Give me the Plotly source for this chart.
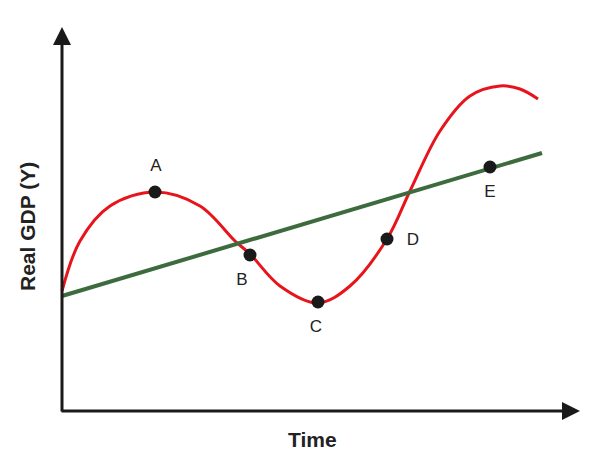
import plotly.graph_objects as go

# values (x = time, y = real GDP, in picture units)
curve_x = [62, 80, 110, 155, 200, 235, 250, 280, 318, 350, 387, 410, 440, 470, 500, 520, 538]
curve_y = [166, 216, 251, 265, 251, 216, 203, 171, 154, 171, 218, 266, 326, 361, 371, 368, 358]
trend_x = [62, 542]
trend_y = [161, 304]
pt_names = ['A', 'B', 'C', 'D', 'E']
pt_x = [155, 250, 318, 387, 490]
pt_y = [265, 202, 155, 218, 290]
lab_x = [156, 242, 316, 413, 490]
lab_y = [290, 176, 129, 216, 264]

fig = go.Figure()
fig.add_trace(go.Scatter(x=curve_x, y=curve_y, mode='lines', line=dict(color='#e8141b', width=3, shape='spline'),
                         hoverinfo='skip'))
fig.add_trace(go.Scatter(x=trend_x, y=trend_y, mode='lines', line=dict(color='#3d6b3d', width=4),
                         hoverinfo='skip'))
fig.add_trace(go.Scatter(x=pt_x, y=pt_y, mode='markers', marker=dict(color='#1a1a1a', size=13)))
fig.add_trace(go.Scatter(x=lab_x, y=lab_y, mode='text', text=pt_names,
                         textfont=dict(family='Arial', size=17, color='#222')))

# axes with arrowheads
fig.add_annotation(x=62, y=430, ax=62, ay=44, xref='x', yref='y', axref='x', ayref='y',
                   showarrow=True, arrowhead=2, arrowsize=1.2, arrowwidth=3, arrowcolor='#1a1a1a', text='')
fig.add_annotation(x=580, y=46, ax=60, ay=46, xref='x', yref='y', axref='x', ayref='y',
                   showarrow=True, arrowhead=2, arrowsize=1.2, arrowwidth=3, arrowcolor='#1a1a1a', text='')
fig.add_annotation(x=312, y=18, text='<b>Time</b>', showarrow=False, font=dict(family='Arial', size=21, color='#222'))
fig.add_annotation(x=27, y=230, text='<b>Real GDP (Y)</b>', textangle=-90, showarrow=False,
                   font=dict(family='Arial', size=21, color='#222'))

fig.update_xaxes(range=[8, 610], visible=False)
fig.update_yaxes(range=[-7, 449], visible=False)
fig.update_layout(width=602, height=456, margin=dict(l=0, r=0, t=0, b=0), showlegend=False,
                  plot_bgcolor='white', paper_bgcolor='white')
fig.write_html("out.html")
